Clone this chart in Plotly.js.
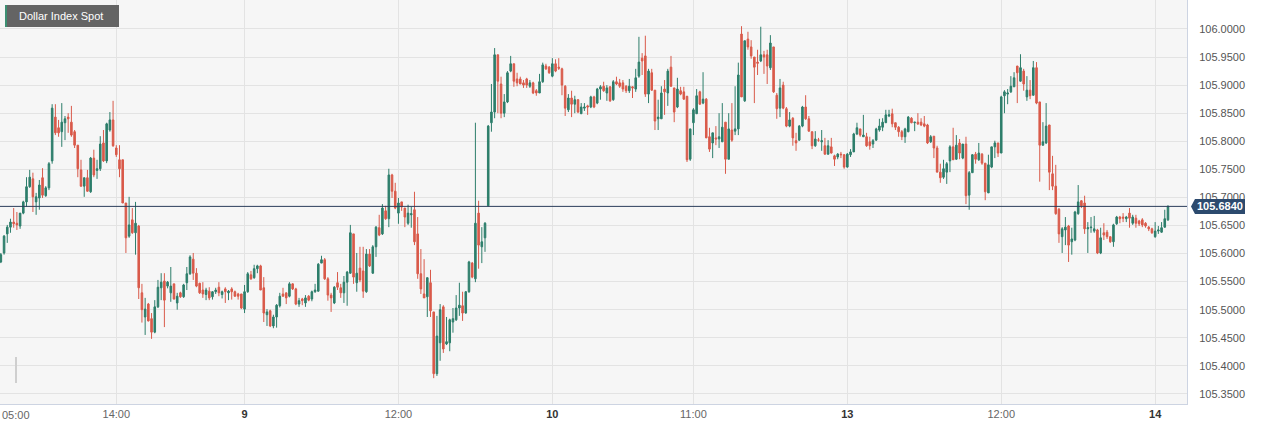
<!DOCTYPE html>
<html>
<head>
<meta charset="utf-8">
<script src="https://cdn.plot.ly/plotly-3.0.1.min.js"></script>
<style>
html,body{margin:0;padding:0;background:#ffffff;}
#chart{width:1264px;height:429px;}
</style>
</head>
<body>
<div id="chart"></div>
<script>
// ---- data (15-minute candles) ----
const chartTitle = 'Dollar Index Spot';
const sessionStarts = ['2023-11-08T05:00:00Z', '2023-11-12T23:00:00Z'];
const sessionCounts = [260, 105];
const weekendBreak = ['2023-11-10 22:00', '2023-11-12 23:00'];

const openV = [
105.585,105.601,105.635,105.647,105.656,105.654,105.649,105.672,105.692,105.719,
105.733,105.692,105.699,105.735,105.703,105.717,105.765,105.843,105.824,105.817,
105.833,105.843,105.834,105.817,105.793,105.749,105.720,105.735,105.710,105.770,
105.748,105.751,105.797,105.765,105.820,105.838,105.788,105.767,105.767,105.690,
105.631,105.660,105.637,105.649,105.530,105.487,105.510,105.484,105.460,105.505,
105.539,105.551,105.542,105.530,105.546,105.512,105.530,105.523,105.548,105.564,
105.590,105.565,105.547,105.535,105.527,105.533,105.523,105.532,105.540,105.527,
105.537,105.530,105.537,105.532,105.528,105.528,105.501,105.532,105.562,105.557,
105.573,105.578,105.539,105.491,105.498,105.471,105.487,105.507,105.528,105.530,
105.524,105.546,105.537,105.510,105.519,105.512,105.524,105.519,105.532,105.533,
105.583,105.589,105.555,105.526,105.512,105.548,105.539,105.530,105.549,105.565,
105.635,105.548,105.574,105.569,105.532,105.599,105.565,105.612,105.646,105.635,
105.676,105.662,105.740,105.711,105.672,105.692,105.681,105.654,105.669,105.678,
105.635,105.564,105.528,105.523,105.548,105.496,105.386,105.441,105.505,105.439,
105.441,105.478,105.482,105.503,105.507,105.494,105.532,105.583,105.555,105.672,
105.612,105.628,105.685,105.833,105.852,105.954,105.902,105.850,105.870,105.925,
105.938,105.911,105.911,105.904,105.911,105.898,105.904,105.890,105.886,105.906,
105.934,105.932,105.916,105.938,105.932,105.929,105.898,105.856,105.877,105.866,
105.874,105.849,105.859,105.863,105.861,105.879,105.868,105.893,105.898,105.886,
105.897,105.874,105.906,105.904,105.904,105.898,105.890,105.897,105.893,105.916,
105.948,105.952,105.884,105.922,105.891,105.840,105.840,105.893,105.886,105.932,
105.895,105.861,105.890,105.888,105.880,105.768,105.833,105.849,105.888,105.868,
105.875,105.808,105.797,105.806,105.804,105.799,105.834,105.768,105.820,105.818,
105.822,105.991,105.872,105.982,105.968,105.950,105.941,105.943,105.954,105.954,
105.931,105.968,105.882,105.859,105.900,105.858,105.827,105.841,105.801,105.802,
105.827,105.861,105.840,105.817,105.792,105.802,105.799,105.792,105.777,105.790,
105.774,105.772,105.777,105.776,105.754,105.776,105.781,105.813,105.822,105.808,
105.808,105.799,105.795,105.802,105.820,105.825,105.833,105.845,105.849,105.833,
105.825,105.817,105.808,105.817,105.841,105.833,105.834,105.834,105.831,105.829,
105.799,105.809,105.788,105.745,105.736,105.745,105.765,105.790,105.768,105.797,
105.770,105.795,105.704,105.744,105.777,105.767,105.777,105.761,105.708,105.754,
105.790,105.797,105.779,105.881,105.884,105.888,105.897,105.934,105.907,105.925,
105.879,105.891,105.882,105.931,105.870,105.793,105.797,105.829,105.742,105.720,
105.679,105.630,105.642,105.649,105.621,105.624,105.671,105.694,105.690,105.644,
105.646,105.640,105.642,105.601,105.637,105.638,105.630,105.621,105.653,105.665,
105.665,105.662,105.672,105.654,105.663,105.658,105.660,105.654,105.647,105.644,
105.630,105.640,105.638,105.647,105.660];

const highV = [
105.601,105.633,105.651,105.662,105.681,105.674,105.672,105.694,105.736,105.749,
105.744,105.708,105.731,105.752,105.720,105.763,105.866,105.866,105.838,105.868,
105.845,105.850,105.863,105.820,105.793,105.767,105.735,105.749,105.772,105.785,
105.767,105.809,105.820,105.833,105.852,105.872,105.793,105.793,105.767,105.690,
105.701,105.681,105.692,105.651,105.546,105.521,105.512,105.494,105.517,105.553,
105.565,105.565,105.551,105.576,105.546,105.530,105.532,105.546,105.576,105.597,
105.601,105.574,105.548,105.549,105.539,105.540,105.533,105.539,105.549,105.534,
105.540,105.535,105.540,105.534,105.530,105.528,105.544,105.567,105.569,105.580,
105.580,105.580,105.558,105.501,105.500,105.491,105.510,105.530,105.539,105.530,
105.549,105.547,105.539,105.521,105.521,105.526,105.526,105.534,105.546,105.583,
105.596,105.592,105.558,105.530,105.542,105.567,105.546,105.560,105.569,105.651,
105.635,105.601,105.612,105.612,105.608,105.608,105.615,105.649,105.669,105.688,
105.685,105.751,105.742,105.726,105.699,105.692,105.681,105.687,105.683,105.710,
105.665,105.608,105.590,105.557,105.571,105.496,105.489,105.510,105.508,105.487,
105.484,105.503,105.526,105.548,105.532,105.533,105.587,105.585,105.833,105.694,
105.647,105.656,105.829,105.902,105.966,105.954,105.915,105.884,105.925,105.952,
105.938,105.922,105.915,105.909,105.913,105.909,105.906,105.893,105.920,105.940,
105.938,105.934,105.948,105.946,105.948,105.931,105.900,105.884,105.890,105.881,
105.875,105.868,105.868,105.865,105.881,105.881,105.895,105.900,105.906,105.900,
105.898,105.909,105.915,105.911,105.909,105.900,105.911,105.898,105.929,105.986,
105.957,105.988,105.929,105.929,105.891,105.874,105.898,105.909,105.929,105.952,
105.895,105.913,105.897,105.897,105.881,105.822,105.859,105.893,105.890,105.923,
105.877,105.824,105.815,105.827,105.850,105.868,105.834,105.850,105.868,105.898,
105.940,106.005,105.979,105.995,105.980,105.950,105.963,106.004,105.961,105.963,
105.989,105.968,105.886,105.911,105.906,105.861,105.852,105.843,105.815,105.829,
105.863,105.882,105.845,105.817,105.818,105.806,105.820,105.806,105.802,105.806,
105.776,105.779,105.781,105.777,105.779,105.786,105.815,105.833,105.822,105.847,
105.815,105.808,105.804,105.824,105.840,105.841,105.856,105.856,105.858,105.833,
105.827,105.820,105.824,105.845,105.843,105.834,105.850,105.841,105.845,105.831,
105.811,105.809,105.792,105.760,105.767,105.763,105.793,105.824,105.811,105.804,
105.795,105.808,105.747,105.777,105.781,105.797,105.779,105.761,105.776,105.790,
105.801,105.797,105.881,105.891,105.893,105.916,105.923,105.934,105.955,105.929,
105.916,105.909,105.943,105.941,105.870,105.834,105.868,105.829,105.774,105.758,
105.681,105.647,105.665,105.651,105.646,105.676,105.722,105.695,105.703,105.656,
105.665,105.667,105.644,105.646,105.654,105.642,105.630,105.653,105.667,105.667,
105.672,105.667,105.681,105.669,105.669,105.660,105.663,105.656,105.649,105.646,
105.656,105.649,105.656,105.678,105.686];

const lowV = [
105.583,105.598,105.619,105.637,105.646,105.642,105.644,105.670,105.683,105.717,
105.674,105.669,105.678,105.699,105.701,105.713,105.760,105.811,105.808,105.790,
105.802,105.815,105.808,105.788,105.736,105.719,105.701,105.710,105.708,105.736,
105.733,105.747,105.763,105.761,105.817,105.790,105.772,105.736,105.690,105.601,
105.628,105.635,105.598,105.519,105.477,105.455,105.479,105.448,105.458,105.503,
105.517,105.469,105.538,105.514,105.518,105.500,105.521,105.521,105.535,105.562,
105.553,105.540,105.528,105.521,105.517,105.517,105.518,105.528,105.524,105.520,
105.512,105.517,105.518,105.523,105.518,105.501,105.494,105.530,105.553,105.555,
105.565,105.535,105.478,105.471,105.469,105.467,105.468,105.504,105.523,105.510,
105.522,105.535,105.508,105.505,105.508,105.505,105.515,105.515,105.530,105.532,
105.583,105.553,105.516,105.496,105.510,105.535,105.521,105.512,105.507,105.564,
105.546,105.532,105.549,105.521,105.530,105.576,105.564,105.594,105.631,105.633,
105.660,105.647,105.699,105.679,105.653,105.676,105.647,105.651,105.646,105.615,
105.555,105.528,105.521,105.487,105.487,105.378,105.382,105.409,105.423,105.437,
105.426,105.459,105.480,105.489,105.480,105.493,105.530,105.556,105.549,105.573,
105.583,105.603,105.684,105.817,105.841,105.850,105.841,105.843,105.868,105.923,
105.897,105.898,105.902,105.895,105.895,105.895,105.884,105.881,105.886,105.904,
105.927,105.920,105.914,105.923,105.927,105.882,105.845,105.852,105.843,105.850,
105.850,105.849,105.854,105.847,105.859,105.859,105.866,105.874,105.888,105.872,
105.870,105.872,105.900,105.895,105.888,105.886,105.886,105.877,105.888,105.913,
105.918,105.879,105.868,105.890,105.820,105.820,105.840,105.847,105.863,105.897,
105.834,105.859,105.882,105.874,105.763,105.765,105.811,105.849,105.865,105.866,
105.806,105.781,105.770,105.793,105.788,105.799,105.742,105.768,105.799,105.811,
105.811,105.879,105.870,105.963,105.947,105.868,105.918,105.941,105.920,105.902,
105.927,105.886,105.840,105.843,105.857,105.825,105.825,105.792,105.783,105.801,
105.825,105.838,105.817,105.786,105.790,105.799,105.783,105.776,105.776,105.778,
105.756,105.768,105.770,105.751,105.753,105.772,105.781,105.811,105.808,105.808,
105.790,105.785,105.788,105.801,105.817,105.818,105.833,105.843,105.825,105.820,
105.808,105.802,105.797,105.816,105.832,105.818,105.829,105.827,105.825,105.795,
105.797,105.770,105.745,105.726,105.733,105.724,105.745,105.767,105.767,105.768,
105.768,105.688,105.678,105.744,105.760,105.765,105.758,105.695,105.708,105.752,
105.770,105.772,105.779,105.850,105.866,105.886,105.897,105.868,105.906,105.890,
105.872,105.875,105.881,105.866,105.728,105.792,105.795,105.713,105.713,105.669,
105.619,105.601,105.615,105.585,105.598,105.622,105.669,105.681,105.635,105.601,
105.637,105.637,105.599,105.599,105.624,105.626,105.619,105.612,105.651,105.654,
105.656,105.656,105.646,105.651,105.646,105.649,105.647,105.646,105.640,105.635,
105.628,105.635,105.637,105.646,105.658];

const closeV = [
105.598,105.631,105.647,105.656,105.653,105.651,105.672,105.692,105.719,105.736,
105.701,105.701,105.722,105.704,105.717,105.760,105.859,105.815,105.815,105.834,
105.840,105.840,105.811,105.793,105.751,105.720,105.735,105.711,105.770,105.740,
105.751,105.795,105.765,105.831,105.838,105.792,105.776,105.751,105.690,105.628,
105.651,105.637,105.654,105.539,105.500,105.501,105.480,105.460,105.505,105.540,
105.549,105.517,105.549,105.542,105.519,105.524,105.523,105.544,105.564,105.594,
105.565,105.542,105.530,105.528,105.535,105.521,105.532,105.535,105.530,105.532,
105.532,105.533,105.532,105.524,105.524,105.503,105.532,105.564,105.555,105.573,
105.578,105.535,105.494,105.496,105.471,105.487,105.508,105.524,105.524,105.521,
105.546,105.537,105.510,105.516,105.516,105.521,105.517,105.532,105.535,105.581,
105.589,105.555,105.526,105.521,105.540,105.540,105.530,105.549,105.567,105.637,
105.558,105.565,105.553,105.533,105.599,105.578,105.612,105.647,105.633,105.681,
105.662,105.740,105.711,105.681,105.690,105.683,105.665,105.672,105.671,105.621,
105.564,105.537,105.521,105.557,105.498,105.386,105.453,105.500,105.430,105.443,
105.482,105.484,105.503,105.508,105.494,105.532,105.585,105.558,105.654,105.615,
105.621,105.654,105.827,105.852,105.954,105.907,105.850,105.870,105.922,105.938,
105.907,105.904,105.902,105.900,105.900,105.904,105.886,105.886,105.906,105.936,
105.929,105.922,105.938,105.925,105.930,105.900,105.859,105.877,105.866,105.874,
105.852,105.861,105.861,105.861,105.879,105.861,105.893,105.897,105.890,105.895,
105.872,105.906,105.902,105.898,105.893,105.890,105.898,105.895,105.913,105.941,
105.943,105.884,105.925,105.891,105.836,105.843,105.886,105.888,105.925,105.898,
105.852,105.893,105.884,105.875,105.767,105.822,105.856,105.881,105.866,105.875,
105.806,105.786,105.815,105.804,105.808,105.825,105.768,105.822,105.802,105.822,
105.918,105.879,105.979,105.968,105.952,105.932,105.939,105.954,105.950,105.934,
105.975,105.888,105.858,105.895,105.859,105.827,105.838,105.806,105.797,105.827,
105.861,105.840,105.818,105.792,105.804,105.802,105.801,105.777,105.792,105.779,
105.768,105.777,105.776,105.754,105.777,105.781,105.813,105.824,105.811,105.811,
105.792,105.792,105.801,105.822,105.827,105.834,105.847,105.847,105.831,105.825,
105.817,105.808,105.822,105.843,105.833,105.834,105.831,105.829,105.827,105.797,
105.808,105.788,105.745,105.735,105.751,105.760,105.790,105.767,105.793,105.779,
105.795,105.703,105.744,105.776,105.768,105.779,105.761,105.710,105.758,105.790,
105.797,105.779,105.879,105.888,105.886,105.898,105.913,105.922,105.931,105.902,
105.891,105.881,105.931,105.868,105.793,105.799,105.827,105.745,105.720,105.671,
105.635,105.644,105.647,105.615,105.626,105.674,105.692,105.685,105.644,105.646,
105.647,105.644,105.601,105.628,105.633,105.630,105.621,105.651,105.665,105.662,
105.663,105.665,105.663,105.665,105.654,105.653,105.651,105.649,105.644,105.637,
105.640,105.642,105.646,105.662,105.684];

const tickTimes = ['2023-11-08 05:00','2023-11-08 14:00','2023-11-09 00:00','2023-11-09 12:00',
  '2023-11-10 00:00','2023-11-10 11:00','2023-11-13 00:00','2023-11-13 12:00','2023-11-14 00:00'];
const tickLabels = ['05:00','14:00','9','12:00','10','11:00','13','12:00','14'];
const tickIsDay = [false,false,true,false,true,false,true,false,true];
const yTickVals = [105.35,105.40,105.45,105.50,105.55,105.60,105.65,105.70,105.75,105.80,105.85,105.90,105.95,106.00];

// ---- build timestamps ----
function fmt(ms){ return new Date(ms).toISOString().slice(0,16).replace('T',' '); }
const times = [];
sessionStarts.forEach((s,k)=>{
  const t0 = Date.parse(s);
  for(let i=0;i<sessionCounts[k];i++) times.push(fmt(t0 + i*15*60000));
});
const n = times.length;
if(openV.length!==n||highV.length!==n||lowV.length!==n||closeV.length!==n){
  throw new Error('length mismatch '+[n,openV.length,highV.length,lowV.length,closeV.length].join(','));
}
const lastClose = closeV[n-1];

// ---- geometry helpers (plot area in px) ----
const W = 1264, H = 429;
const M = {l:0, r:77, t:0, b:25};
const PW = W - M.l - M.r, PH = H - M.t - M.b;
const px = v => v / PW;          // px -> paper x
const py = v => 1 - v / PH;      // px -> paper y

const green = '#2d7e6b', red = '#d95a4a';
const navy = '#2c4a6e';
const FONT = '"Liberation Sans", Arial, sans-serif';

const trace = {
  type:'candlestick', x: times, open: openV, high: highV, low: lowV, close: closeV,
  increasing:{line:{color:green, width:1}, fillcolor:green},
  decreasing:{line:{color:red, width:1}, fillcolor:red},
  whiskerwidth:0, hoverinfo:'none', showlegend:false
};

const ticktext = tickLabels.map((t,i)=> i===0 ? ' ' :
  (tickIsDay[i] ? '<b><span style="color:#333">'+t+'</span></b>' : t));

const layout = {
  width: W, height: H, margin: M,
  paper_bgcolor:'#ffffff', plot_bgcolor:'#f6f6f6',
  showlegend:false, dragmode:false, hovermode:false,
  font:{family:FONT, size:11, color:'#666'},
  xaxis:{
    type:'date', range:['2023-11-08 04:56','2023-11-14 02:29'],
    rangebreaks:[{bounds: weekendBreak}],
    rangeslider:{visible:false},
    tickmode:'array', tickvals: tickTimes, ticktext: ticktext,
    showgrid:true, gridcolor:'#e3e3e3', gridwidth:1,
    ticks:'', showline:true, mirror:true, linecolor:'#cdd4e2', linewidth:1,
    tickfont:{family:FONT, size:11, color:'#666'}, zeroline:false, fixedrange:true
  },
  yaxis:{
    side:'right', range:[105.332, 106.0516],
    tickmode:'array', tickvals: yTickVals, tickformat:'.4f',
    showgrid:true, gridcolor:'#e3e3e3', gridwidth:1,
    ticks:'', ticklabelstandoff:9,
    showline:true, mirror:true, linecolor:'#cdd4e2', linewidth:1,
    tickfont:{family:FONT, size:11, color:'#555'}, zeroline:false, fixedrange:true
  },
  shapes:[
    // cover box bottom-left
    {type:'rect', xref:'paper', yref:'paper', x0:px(1), x1:px(129), y0:py(386), y1:py(347),
     fillcolor:'#f6f6f6', line:{width:0}, layer:'between'},
    {type:'line', xref:'paper', yref:'paper', x0:px(16), x1:px(16), y0:py(383), y1:py(357),
     line:{color:'#cfcfcf', width:2}},
    // last price line
    {type:'line', xref:'paper', yref:'y', x0:0, x1:1, y0:lastClose, y1:lastClose,
     line:{color:'#2b3d5a', width:1}},
    // price tag
    {type:'path', xref:'paper', yref:'y', xsizemode:'pixel', ysizemode:'pixel',
     xanchor:1, yanchor:lastClose,
     path:'M 4,0 L 8,-7.5 L 58,-7.5 L 58,7.5 L 8,7.5 Z',
     fillcolor:navy, line:{width:0}},
    // title box
    {type:'rect', xref:'paper', yref:'paper', x0:px(5), x1:px(119), y0:py(27), y1:py(5),
     fillcolor:'#646464', line:{width:0}},
    {type:'rect', xref:'paper', yref:'paper', x0:px(5), x1:px(7), y0:py(27), y1:py(5),
     fillcolor:'#3c8f72', line:{width:0}}
  ],
  annotations:[
    {xref:'paper', yref:'paper', x:px(17), y:py(16), xanchor:'left', yanchor:'middle',
     text:chartTitle, showarrow:false, font:{family:FONT, size:11, color:'#ffffff'}},
    {xref:'paper', yref:'y', x:1, y:lastClose, xanchor:'center', yanchor:'middle', xshift:33,
     text:'<b>'+lastClose.toFixed(4)+'</b>', showarrow:false, font:{family:FONT, size:11, color:'#ffffff'}},
    {xref:'paper', yref:'paper', x:0, y:py(415), xanchor:'left', yanchor:'middle',
     text:tickLabels[0], showarrow:false, font:{family:FONT, size:11, color:'#666'}}
  ]
};

Plotly.newPlot('chart', [trace], layout, {displayModeBar:false, staticPlot:true});
</script>
</body>
</html>
